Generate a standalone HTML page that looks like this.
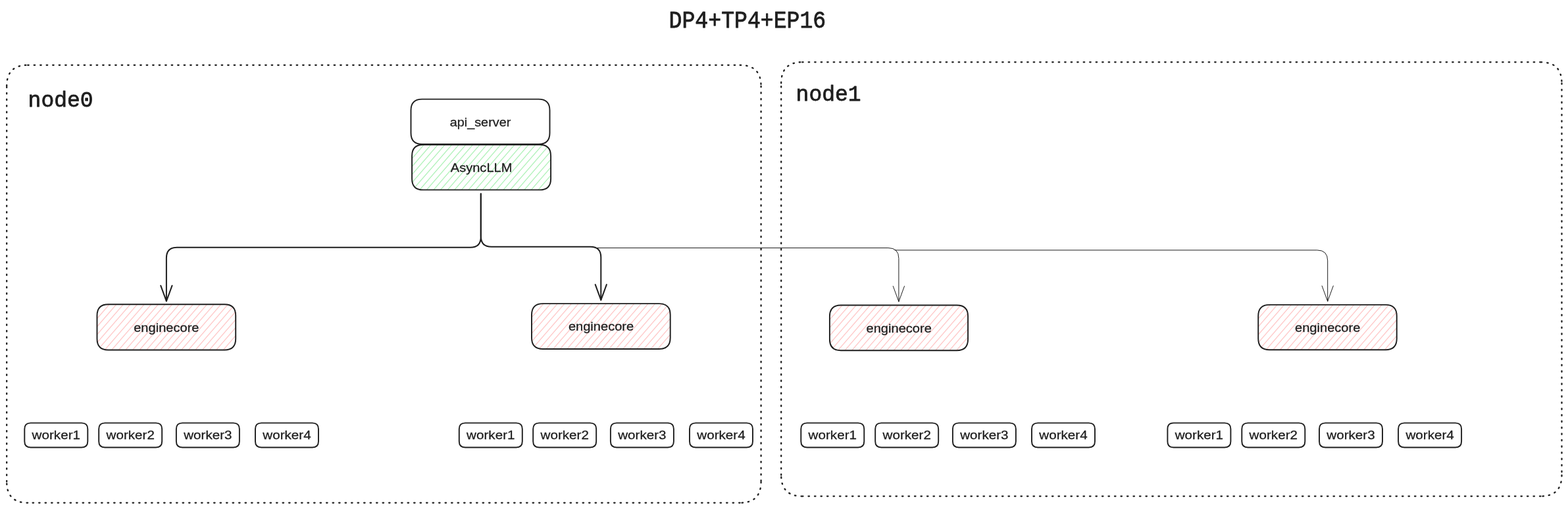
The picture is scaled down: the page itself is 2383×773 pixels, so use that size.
<!DOCTYPE html>
<html lang="en">
<head>
<meta charset="utf-8">
<title>DP4+TP4+EP16</title>
<style>
html,body{margin:0;padding:0;background:#fff;}
body{width:2383px;height:773px;overflow:hidden;}
svg{display:block;will-change:transform;}
.lbl{font-family:"Liberation Sans",sans-serif;font-size:18.8px;fill:#1e1e1e;stroke:#1e1e1e;stroke-width:0.3px;stroke-linejoin:round;text-anchor:middle;}
.code{font-family:"Liberation Mono",monospace;font-size:33px;fill:#1e1e1e;stroke:#1e1e1e;stroke-width:0.8px;stroke-linejoin:round;}
.box{fill:none;stroke:#1e1e1e;stroke-width:1.9;stroke-linejoin:round;}
.dot{fill:none;stroke:#1e1e1e;stroke-width:2.3;stroke-linecap:round;stroke-dasharray:1.5 8;}
.arrow{fill:none;stroke:#1e1e1e;stroke-width:2;stroke-linecap:round;stroke-linejoin:round;}
.thin{fill:none;stroke:#1e1e1e;stroke-width:1;stroke-linecap:round;stroke-linejoin:round;}
.hach{fill:none;stroke-width:1.35;}
</style>
</head>
<body>
<svg width="2383" height="773" viewBox="0 0 2383 773">
<defs>
<clipPath id="c0"><path d="M643.10,219.80 H820.10 Q837.10,219.80 837.10,236.80 V271.40 Q837.10,288.40 820.10,288.40 H643.10 Q626.10,288.40 626.10,271.40 V236.80 Q626.10,219.80 643.10,219.80 Z"/></clipPath>
<clipPath id="c1"><path d="M164.50,462.30 H341.20 Q358.20,462.30 358.20,479.30 V514.50 Q358.20,531.50 341.20,531.50 H164.50 Q147.50,531.50 147.50,514.50 V479.30 Q147.50,462.30 164.50,462.30 Z"/></clipPath>
<clipPath id="c2"><path d="M825.00,461.10 H1001.70 Q1018.70,461.10 1018.70,478.10 V513.00 Q1018.70,530.00 1001.70,530.00 H825.00 Q808.00,530.00 808.00,513.00 V478.10 Q808.00,461.10 825.00,461.10 Z"/></clipPath>
<clipPath id="c3"><path d="M1277.90,463.50 H1454.10 Q1471.10,463.50 1471.10,480.50 V515.30 Q1471.10,532.30 1454.10,532.30 H1277.90 Q1260.90,532.30 1260.90,515.30 V480.50 Q1260.90,463.50 1277.90,463.50 Z"/></clipPath>
<clipPath id="c4"><path d="M1929.25,462.90 H2105.75 Q2122.75,462.90 2122.75,479.90 V514.30 Q2122.75,531.30 2105.75,531.30 H1929.25 Q1912.25,531.30 1912.25,514.30 V479.90 Q1912.25,462.90 1929.25,462.90 Z"/></clipPath>
</defs>
<rect width="2383" height="773" fill="#ffffff"/>

<!-- title -->
<text class="code" transform="translate(1016.6 41.6) scale(1 1.12)" x="0" y="0" textLength="238.6" lengthAdjust="spacingAndGlyphs">DP4+TP4+EP16</text>
<!-- node frames -->
<path class="dot" d="M42.20,98.85 L1124.60,98.85 M1124.60,98.85 Q1156.60,98.85 1156.60,130.85 M1156.60,130.85 L1156.60,731.60 M1156.60,731.60 Q1156.60,763.60 1124.60,763.60 M1124.60,763.60 L42.20,763.60 M42.20,763.60 Q10.20,763.60 10.20,731.60 M10.20,731.60 L10.20,130.85 M10.20,130.85 Q10.20,98.85 42.20,98.85"/>
<path class="dot" d="M1219.20,94.35 L2341.50,94.35 M2341.50,94.35 Q2373.50,94.35 2373.50,126.35 M2373.50,126.35 L2373.50,721.60 M2373.50,721.60 Q2373.50,753.60 2341.50,753.60 M2341.50,753.60 L1219.20,753.60 M1219.20,753.60 Q1187.20,753.60 1187.20,721.60 M1187.20,721.60 L1187.20,126.35 M1187.20,126.35 Q1187.20,94.35 1219.20,94.35"/>
<text class="code" transform="translate(42.6 161.8) scale(1 1.0)" x="0" y="0" textLength="99.0" lengthAdjust="spacingAndGlyphs">node0</text>
<text class="code" transform="translate(1209.6 152.6) scale(1 1.0)" x="0" y="0" textLength="99.0" lengthAdjust="spacingAndGlyphs">node1</text>
<!-- api_server / AsyncLLM -->
<path class="box" d="M641.50,150.60 H818.50 Q835.50,150.60 835.50,167.60 V202.00 Q835.50,219.00 818.50,219.00 H641.50 Q624.50,219.00 624.50,202.00 V167.60 Q624.50,150.60 641.50,150.60 Z"/>
<text class="lbl" transform="translate(730.00 192.10) scale(1.0550 1)" x="0" y="0">api_server</text>
<path class="hach" d="M447.0,434.6L813.9,12.6M453.1,439.9L819.9,17.8M459.1,445.1L826.0,23.1M465.1,450.3L832.0,28.3M471.2,455.6L838.0,33.6M477.2,460.8L844.1,38.8M483.2,466.1L850.1,44.1M489.3,471.3L856.2,49.3M495.3,476.6L862.2,54.6M501.4,481.8L868.2,59.8M507.4,487.1L874.3,65.1M513.4,492.3L880.3,70.3M519.5,497.6L886.3,75.6M525.5,502.8L892.4,80.8M531.5,508.1L898.4,86.0M537.6,513.3L904.5,91.3M543.6,518.6L910.5,96.5M549.7,523.8L916.5,101.8M555.7,529.1L922.6,107.0M561.7,534.3L928.6,112.3M567.8,539.6L934.6,117.5M573.8,544.8L940.7,122.8M579.8,550.1L946.7,128.0M585.9,555.3L952.8,133.3M591.9,560.6L958.8,138.5M598.0,565.8L964.8,143.8" clip-path="url(#c0)" stroke="#b2f2bb"/>
<path class="box" d="M643.10,219.80 H820.10 Q837.10,219.80 837.10,236.80 V271.40 Q837.10,288.40 820.10,288.40 H643.10 Q626.10,288.40 626.10,271.40 V236.80 Q626.10,219.80 643.10,219.80 Z"/>
<text class="lbl" transform="translate(731.60 261.00) scale(1.0680 1)" x="0" y="0">AsyncLLM</text>
<!-- enginecore -->
<path class="hach" d="M-37.5,672.3L329.7,249.8M-31.5,677.6L335.8,255.1M-25.5,682.8L341.8,260.3M-19.4,688.1L347.8,265.6M-13.4,693.3L353.9,270.8M-7.4,698.6L359.9,276.1M-1.3,703.8L365.9,281.3M4.7,709.1L372.0,286.6M10.8,714.3L378.0,291.8M16.8,719.6L384.1,297.1M22.8,724.8L390.1,302.3M28.9,730.1L396.1,307.6M34.9,735.3L402.2,312.8M41.0,740.5L408.2,318.1M47.0,745.8L414.3,323.3M53.0,751.0L420.3,328.6M59.1,756.3L426.3,333.8M65.1,761.5L432.4,339.1M71.1,766.8L438.4,344.3M77.2,772.0L444.4,349.6M83.2,777.3L450.5,354.8M89.3,782.5L456.5,360.1M95.3,787.8L462.6,365.3M101.3,793.0L468.6,370.5M107.4,798.3L474.6,375.8M113.4,803.5L480.7,381.0M119.4,808.8L486.7,386.3" clip-path="url(#c1)" stroke="#ffc9c9"/>
<path class="box" d="M164.50,462.30 H341.20 Q358.20,462.30 358.20,479.30 V514.50 Q358.20,531.50 341.20,531.50 H164.50 Q147.50,531.50 147.50,514.50 V479.30 Q147.50,462.30 164.50,462.30 Z"/>
<text class="lbl" transform="translate(252.85 503.60) scale(1.0690 1)" x="0" y="0">enginecore</text>
<path class="hach" d="M628.9,675.9L995.8,253.9M635.0,681.1L1001.8,259.1M641.0,686.4L1007.9,264.4M647.0,691.6L1013.9,269.6M653.1,696.9L1019.9,274.9M659.1,702.1L1026.0,280.1M665.1,707.4L1032.0,285.4M671.2,712.6L1038.0,290.6M677.2,717.9L1044.1,295.9M683.3,723.1L1050.1,301.1M689.3,728.4L1056.2,306.3M695.3,733.6L1062.2,311.6M701.4,738.9L1068.2,316.8M707.4,744.1L1074.3,322.1M713.4,749.4L1080.3,327.3M719.5,754.6L1086.3,332.6M725.5,759.9L1092.4,337.8M731.6,765.1L1098.4,343.1M737.6,770.4L1104.5,348.3M743.6,775.6L1110.5,353.6M749.7,780.9L1116.5,358.8M755.7,786.1L1122.6,364.1M761.7,791.4L1128.6,369.3M767.8,796.6L1134.6,374.6M773.8,801.9L1140.7,379.8M779.9,807.1L1146.7,385.1" clip-path="url(#c2)" stroke="#ffc9c9"/>
<path class="box" d="M825.00,461.10 H1001.70 Q1018.70,461.10 1018.70,478.10 V513.00 Q1018.70,530.00 1001.70,530.00 H825.00 Q808.00,530.00 808.00,513.00 V478.10 Q808.00,461.10 825.00,461.10 Z"/>
<text class="lbl" transform="translate(913.55 501.60) scale(1.0690 1)" x="0" y="0">enginecore</text>
<path class="hach" d="M1076.7,673.1L1442.8,251.9M1082.7,678.3L1448.8,257.2M1088.8,683.5L1454.9,262.4M1094.8,688.8L1460.9,267.7M1100.8,694.0L1466.9,272.9M1106.9,699.3L1473.0,278.2M1112.9,704.5L1479.0,283.4M1119.0,709.8L1485.0,288.7M1125.0,715.0L1491.1,293.9M1131.0,720.3L1497.1,299.2M1137.1,725.5L1503.2,304.4M1143.1,730.8L1509.2,309.7M1149.1,736.0L1515.2,314.9M1155.2,741.3L1521.3,320.2M1161.2,746.5L1527.3,325.4M1167.3,751.8L1533.3,330.7M1173.3,757.0L1539.4,335.9M1179.3,762.3L1545.4,341.1M1185.4,767.5L1551.5,346.4M1191.4,772.8L1557.5,351.6M1197.4,778.0L1563.5,356.9M1203.5,783.3L1569.6,362.1M1209.5,788.5L1575.6,367.4M1215.6,793.8L1581.6,372.6M1221.6,799.0L1587.7,377.9M1227.6,804.3L1593.7,383.1" clip-path="url(#c3)" stroke="#ffc9c9"/>
<path class="box" d="M1277.90,463.50 H1454.10 Q1471.10,463.50 1471.10,480.50 V515.30 Q1471.10,532.30 1454.10,532.30 H1277.90 Q1260.90,532.30 1260.90,515.30 V480.50 Q1260.90,463.50 1277.90,463.50 Z"/>
<text class="lbl" transform="translate(1366.20 504.55) scale(1.0690 1)" x="0" y="0">enginecore</text>
<path class="hach" d="M1733.7,677.2L2099.6,256.2M1739.7,682.5L2105.7,261.5M1745.7,687.7L2111.7,266.7M1751.8,692.9L2117.7,272.0M1757.8,698.2L2123.8,277.2M1763.9,703.4L2129.8,282.5M1769.9,708.7L2135.8,287.7M1775.9,713.9L2141.9,293.0M1782.0,719.2L2147.9,298.2M1788.0,724.4L2154.0,303.5M1794.0,729.7L2160.0,308.7M1800.1,734.9L2166.0,314.0M1806.1,740.2L2172.1,319.2M1812.2,745.4L2178.1,324.5M1818.2,750.7L2184.1,329.7M1824.2,755.9L2190.2,335.0M1830.3,761.2L2196.2,340.2M1836.3,766.4L2202.3,345.5M1842.3,771.7L2208.3,350.7M1848.4,776.9L2214.3,355.9M1854.4,782.2L2220.4,361.2M1860.5,787.4L2226.4,366.4M1866.5,792.7L2232.4,371.7M1872.5,797.9L2238.5,376.9M1878.6,803.2L2244.5,382.2" clip-path="url(#c4)" stroke="#ffc9c9"/>
<path class="box" d="M1929.25,462.90 H2105.75 Q2122.75,462.90 2122.75,479.90 V514.30 Q2122.75,531.30 2105.75,531.30 H1929.25 Q1912.25,531.30 1912.25,514.30 V479.90 Q1912.25,462.90 1929.25,462.90 Z"/>
<text class="lbl" transform="translate(2017.70 503.60) scale(1.0690 1)" x="0" y="0">enginecore</text>
<!-- workers -->
<path class="box" d="M46.55,642.35 H124.05 Q133.30,642.35 133.30,651.60 V670.20 Q133.30,679.45 124.05,679.45 H46.55 Q37.30,679.45 37.30,670.20 V651.60 Q37.30,642.35 46.55,642.35 Z"/>
<text class="lbl" transform="translate(85.30 667.25) scale(1.0980 1)" x="0" y="0">worker1</text>
<path class="box" d="M159.45,642.35 H236.95 Q246.20,642.35 246.20,651.60 V670.20 Q246.20,679.45 236.95,679.45 H159.45 Q150.20,679.45 150.20,670.20 V651.60 Q150.20,642.35 159.45,642.35 Z"/>
<text class="lbl" transform="translate(198.20 667.25) scale(1.0980 1)" x="0" y="0">worker2</text>
<path class="box" d="M277.15,642.35 H354.65 Q363.90,642.35 363.90,651.60 V670.20 Q363.90,679.45 354.65,679.45 H277.15 Q267.90,679.45 267.90,670.20 V651.60 Q267.90,642.35 277.15,642.35 Z"/>
<text class="lbl" transform="translate(315.90 667.25) scale(1.0980 1)" x="0" y="0">worker3</text>
<path class="box" d="M397.25,642.35 H474.75 Q484.00,642.35 484.00,651.60 V670.20 Q484.00,679.45 474.75,679.45 H397.25 Q388.00,679.45 388.00,670.20 V651.60 Q388.00,642.35 397.25,642.35 Z"/>
<text class="lbl" transform="translate(436.00 667.25) scale(1.0980 1)" x="0" y="0">worker4</text>
<path class="box" d="M707.05,642.35 H784.55 Q793.80,642.35 793.80,651.60 V670.20 Q793.80,679.45 784.55,679.45 H707.05 Q697.80,679.45 697.80,670.20 V651.60 Q697.80,642.35 707.05,642.35 Z"/>
<text class="lbl" transform="translate(745.80 667.25) scale(1.0980 1)" x="0" y="0">worker1</text>
<path class="box" d="M819.45,642.35 H896.95 Q906.20,642.35 906.20,651.60 V670.20 Q906.20,679.45 896.95,679.45 H819.45 Q810.20,679.45 810.20,670.20 V651.60 Q810.20,642.35 819.45,642.35 Z"/>
<text class="lbl" transform="translate(858.20 667.25) scale(1.0980 1)" x="0" y="0">worker2</text>
<path class="box" d="M937.15,642.35 H1014.65 Q1023.90,642.35 1023.90,651.60 V670.20 Q1023.90,679.45 1014.65,679.45 H937.15 Q927.90,679.45 927.90,670.20 V651.60 Q927.90,642.35 937.15,642.35 Z"/>
<text class="lbl" transform="translate(975.90 667.25) scale(1.0980 1)" x="0" y="0">worker3</text>
<path class="box" d="M1057.25,642.35 H1134.75 Q1144.00,642.35 1144.00,651.60 V670.20 Q1144.00,679.45 1134.75,679.45 H1057.25 Q1048.00,679.45 1048.00,670.20 V651.60 Q1048.00,642.35 1057.25,642.35 Z"/>
<text class="lbl" transform="translate(1096.00 667.25) scale(1.0980 1)" x="0" y="0">worker4</text>
<path class="box" d="M1226.55,642.35 H1304.05 Q1313.30,642.35 1313.30,651.60 V670.20 Q1313.30,679.45 1304.05,679.45 H1226.55 Q1217.30,679.45 1217.30,670.20 V651.60 Q1217.30,642.35 1226.55,642.35 Z"/>
<text class="lbl" transform="translate(1265.30 667.25) scale(1.0980 1)" x="0" y="0">worker1</text>
<path class="box" d="M1339.45,642.35 H1416.95 Q1426.20,642.35 1426.20,651.60 V670.20 Q1426.20,679.45 1416.95,679.45 H1339.45 Q1330.20,679.45 1330.20,670.20 V651.60 Q1330.20,642.35 1339.45,642.35 Z"/>
<text class="lbl" transform="translate(1378.20 667.25) scale(1.0980 1)" x="0" y="0">worker2</text>
<path class="box" d="M1457.15,642.35 H1534.65 Q1543.90,642.35 1543.90,651.60 V670.20 Q1543.90,679.45 1534.65,679.45 H1457.15 Q1447.90,679.45 1447.90,670.20 V651.60 Q1447.90,642.35 1457.15,642.35 Z"/>
<text class="lbl" transform="translate(1495.90 667.25) scale(1.0980 1)" x="0" y="0">worker3</text>
<path class="box" d="M1577.25,642.35 H1654.75 Q1664.00,642.35 1664.00,651.60 V670.20 Q1664.00,679.45 1654.75,679.45 H1577.25 Q1568.00,679.45 1568.00,670.20 V651.60 Q1568.00,642.35 1577.25,642.35 Z"/>
<text class="lbl" transform="translate(1616.00 667.25) scale(1.0980 1)" x="0" y="0">worker4</text>
<path class="box" d="M1783.65,642.35 H1861.15 Q1870.40,642.35 1870.40,651.60 V670.20 Q1870.40,679.45 1861.15,679.45 H1783.65 Q1774.40,679.45 1774.40,670.20 V651.60 Q1774.40,642.35 1783.65,642.35 Z"/>
<text class="lbl" transform="translate(1822.40 667.25) scale(1.0980 1)" x="0" y="0">worker1</text>
<path class="box" d="M1896.55,642.35 H1974.05 Q1983.30,642.35 1983.30,651.60 V670.20 Q1983.30,679.45 1974.05,679.45 H1896.55 Q1887.30,679.45 1887.30,670.20 V651.60 Q1887.30,642.35 1896.55,642.35 Z"/>
<text class="lbl" transform="translate(1935.30 667.25) scale(1.0980 1)" x="0" y="0">worker2</text>
<path class="box" d="M2014.25,642.35 H2091.75 Q2101.00,642.35 2101.00,651.60 V670.20 Q2101.00,679.45 2091.75,679.45 H2014.25 Q2005.00,679.45 2005.00,670.20 V651.60 Q2005.00,642.35 2014.25,642.35 Z"/>
<text class="lbl" transform="translate(2053.00 667.25) scale(1.0980 1)" x="0" y="0">worker3</text>
<path class="box" d="M2134.35,642.35 H2211.85 Q2221.10,642.35 2221.10,651.60 V670.20 Q2221.10,679.45 2211.85,679.45 H2134.35 Q2125.10,679.45 2125.10,670.20 V651.60 Q2125.10,642.35 2134.35,642.35 Z"/>
<text class="lbl" transform="translate(2173.10 667.25) scale(1.0980 1)" x="0" y="0">worker4</text>
<!-- arrows -->
<path class="arrow" d="M730.8,294.3 V359.8 Q730.8,375.8 714.8,375.8 H268.9 Q252.9,375.8 252.9,391.8 V457.3"/>
<path class="arrow" d="M244.30,433.80 L252.90,457.30 L261.50,433.80"/>
<path class="arrow" d="M730.8,294.3 V358.7 Q730.8,374.7 746.8,374.7 H897.3 Q913.3,374.7 913.3,390.7 V455.6"/>
<path class="arrow" d="M904.70,432.10 L913.30,455.60 L921.90,432.10"/>
<path class="thin" d="M905,376.5 H1349.9 Q1365.9,376.5 1365.9,392.5 V458.1"/>
<path class="thin" d="M1357.30,434.60 L1365.90,458.10 L1374.50,434.60"/>
<path class="thin" d="M1360,379.9 H2001.7 Q2017.7,379.9 2017.7,395.9 V457.6"/>
<path class="thin" d="M2009.10,434.10 L2017.70,457.60 L2026.30,434.10"/>
</svg>
</body>
</html>
